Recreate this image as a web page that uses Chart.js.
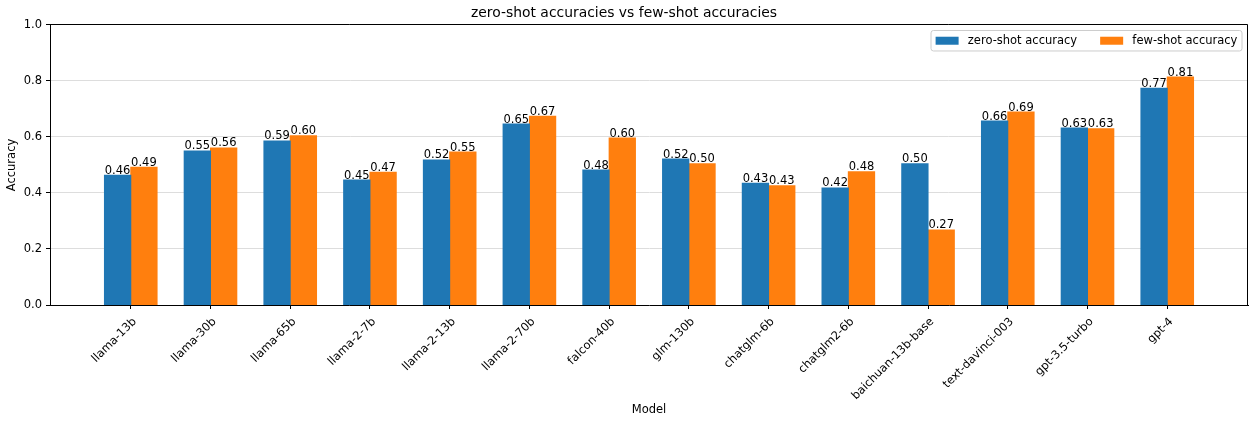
<!DOCTYPE html>
<html><head><meta charset="utf-8">
<script src="https://cdn.jsdelivr.net/npm/chart.js@4.4.0/dist/chart.umd.min.js"></script>
<style>html,body{margin:0;padding:0;background:#fff;overflow:hidden;}</style>
</head><body>
<canvas id="c" width="1249" height="421"></canvas>
<script>
const categories = ['llama-13b','llama-30b','llama-65b','llama-2-7b','llama-2-13b','llama-2-70b','falcon-40b','glm-130b','chatglm-6b','chatglm2-6b','baichuan-13b-base','text-davinci-003','gpt-3.5-turbo','gpt-4'];
const zeroShot = [0.463,0.550,0.586,0.446,0.518,0.646,0.482,0.521,0.435,0.418,0.504,0.657,0.632,0.774];
const fewShot  = [0.492,0.561,0.604,0.474,0.546,0.674,0.596,0.504,0.426,0.476,0.268,0.689,0.629,0.814];
const seriesNames = ['zero-shot accuracy','few-shot accuracy'];
const seriesColors = ['#1f77b4','#ff7f0e'];
const yTicks = [0.0,0.2,0.4,0.6,0.8,1.0];
const titleText = 'zero-shot accuracies vs few-shot accuracies';
const xTitle = 'Model';
const yTitle = 'Accuracy';

const FONT = 'DejaVu Sans';
const FS = 11.5;

const framePlugin = {
  id: 'frame',
  afterDatasetsDraw(chart) {
    const {ctx, chartArea: a} = chart;
    ctx.save();
    ctx.strokeStyle = '#000';
    ctx.lineWidth = 1;
    ctx.beginPath();
    ctx.moveTo(Math.round(a.left) + 0.5, Math.round(a.top) - 0.5);
    ctx.lineTo(Math.round(a.right) - 0.5, Math.round(a.top) - 0.5);
    ctx.lineTo(Math.round(a.right) - 0.5, Math.round(a.bottom));
    ctx.stroke();
    ctx.restore();
  }
};

const labelPlugin = {
  id: 'barLabels',
  afterDatasetsDraw(chart) {
    const ctx = chart.ctx;
    ctx.save();
    ctx.font = FS + 'px "' + FONT + '"';
    ctx.fillStyle = '#000';
    ctx.textAlign = 'center';
    ctx.textBaseline = 'alphabetic';
    chart.data.datasets.forEach((ds, di) => {
      const meta = chart.getDatasetMeta(di);
      meta.data.forEach((bar, i) => {
        ctx.fillText(ds.data[i].y.toFixed(2), bar.x, bar.y - 1.5);
      });
    });
    ctx.restore();
  }
};

const legendPlugin = {
  id: 'customLegend',
  afterDraw(chart) {
    const ctx = chart.ctx;
    const a = chart.chartArea;
    ctx.save();
    ctx.font = FS + 'px "' + FONT + '"';
    const pad = 4.6, hl = 23, hh = 8, htp = 9.2, colsp = 23;
    const widths = seriesNames.map(s => ctx.measureText(s).width);
    let total = pad * 2;
    widths.forEach((w, i) => { total += hl + htp + w + (i < widths.length - 1 ? colsp : 0); });
    const h = 20.5;
    const x0 = a.right - 6 - total;
    const y0 = a.top + 5.5;
    ctx.beginPath();
    const r = 2.5;
    ctx.moveTo(x0 + r, y0);
    ctx.lineTo(x0 + total - r, y0);
    ctx.arcTo(x0 + total, y0, x0 + total, y0 + r, r);
    ctx.lineTo(x0 + total, y0 + h - r);
    ctx.arcTo(x0 + total, y0 + h, x0 + total - r, y0 + h, r);
    ctx.lineTo(x0 + r, y0 + h);
    ctx.arcTo(x0, y0 + h, x0, y0 + h - r, r);
    ctx.lineTo(x0, y0 + r);
    ctx.arcTo(x0, y0, x0 + r, y0, r);
    ctx.closePath();
    ctx.fillStyle = 'rgba(255,255,255,0.8)';
    ctx.fill();
    ctx.strokeStyle = '#cccccc';
    ctx.lineWidth = 1;
    ctx.stroke();
    let x = x0 + pad;
    const cy = y0 + h / 2;
    ctx.textBaseline = 'middle';
    ctx.textAlign = 'left';
    seriesNames.forEach((s, i) => {
      ctx.fillStyle = seriesColors[i];
      ctx.fillRect(x, cy - hh / 2, hl, hh);
      x += hl + htp;
      ctx.fillStyle = '#000';
      ctx.fillText(s, x, cy + 0.5);
      x += widths[i] + colsp;
    });
    ctx.restore();
  }
};

new Chart(document.getElementById('c'), {
  type: 'bar',
  data: {
    datasets: seriesNames.map((name, k) => ({
      label: name,
      data: (k === 0 ? zeroShot : fewShot).map((v, i) => ({x: i, y: v})),
      backgroundColor: seriesColors[k],
      borderWidth: 0,
      inflateAmount: 0.5,
      categoryPercentage: 0.66,
      barPercentage: 1.0
    }))
  },
  options: {
    responsive: false,
    animation: false,
    events: [],
    layout: { padding: { left: 0, right: 1, top: 0, bottom: 0 } },
    plugins: {
      legend: { display: false },
      tooltip: { enabled: false },
      title: {
        display: true,
        text: titleText,
        color: '#000',
        font: { family: FONT, size: 13.9, weight: 'normal', lineHeight: 1.2 },
        padding: { top: 5, bottom: 3.3 }
      }
    },
    scales: {
      x: {
        type: 'linear',
        min: -1.013,
        max: 14.013,
        offset: false,
        afterBuildTicks: (scale) => { scale.ticks = categories.map((_, i) => ({ value: i })); },
        afterFit: (scale) => { scale.height = 116; },
        ticks: {
          autoSkip: false,
          maxRotation: 45,
          minRotation: 45,
          padding: 6,
          labelOffset: 4,
          color: '#000',
          font: { family: FONT, size: FS },
          callback: (v) => categories[v] !== undefined ? categories[v] : ''
        },
        grid: { offset: false, drawOnChartArea: false, drawTicks: true, tickLength: 4, tickColor: '#000', color: '#000' },
        border: { display: true, color: '#000', width: 1 },
        title: {
          display: true, text: xTitle, color: '#000',
          font: { family: FONT, size: FS },
          padding: { top: 0, bottom: 4 }
        }
      },
      y: {
        min: 0,
        max: 1,
        afterBuildTicks: (scale) => { scale.ticks = yTicks.map(v => ({ value: v })); },
        afterFit: (scale) => { scale.width = 50; },
        ticks: {
          padding: 4,
          color: '#000',
          font: { family: FONT, size: FS },
          callback: (v) => Number(v).toFixed(1)
        },
        grid: { color: '#dddddd', lineWidth: 1, drawTicks: true, tickLength: 4, tickColor: '#000' },
        border: { display: true, color: '#000', width: 1 },
        title: {
          display: true, text: yTitle, color: '#000',
          font: { family: FONT, size: FS },
          padding: { top: 5, bottom: 0 }
        }
      }
    }
  },
  plugins: [framePlugin, labelPlugin, legendPlugin]
});
</script>
</body></html>
